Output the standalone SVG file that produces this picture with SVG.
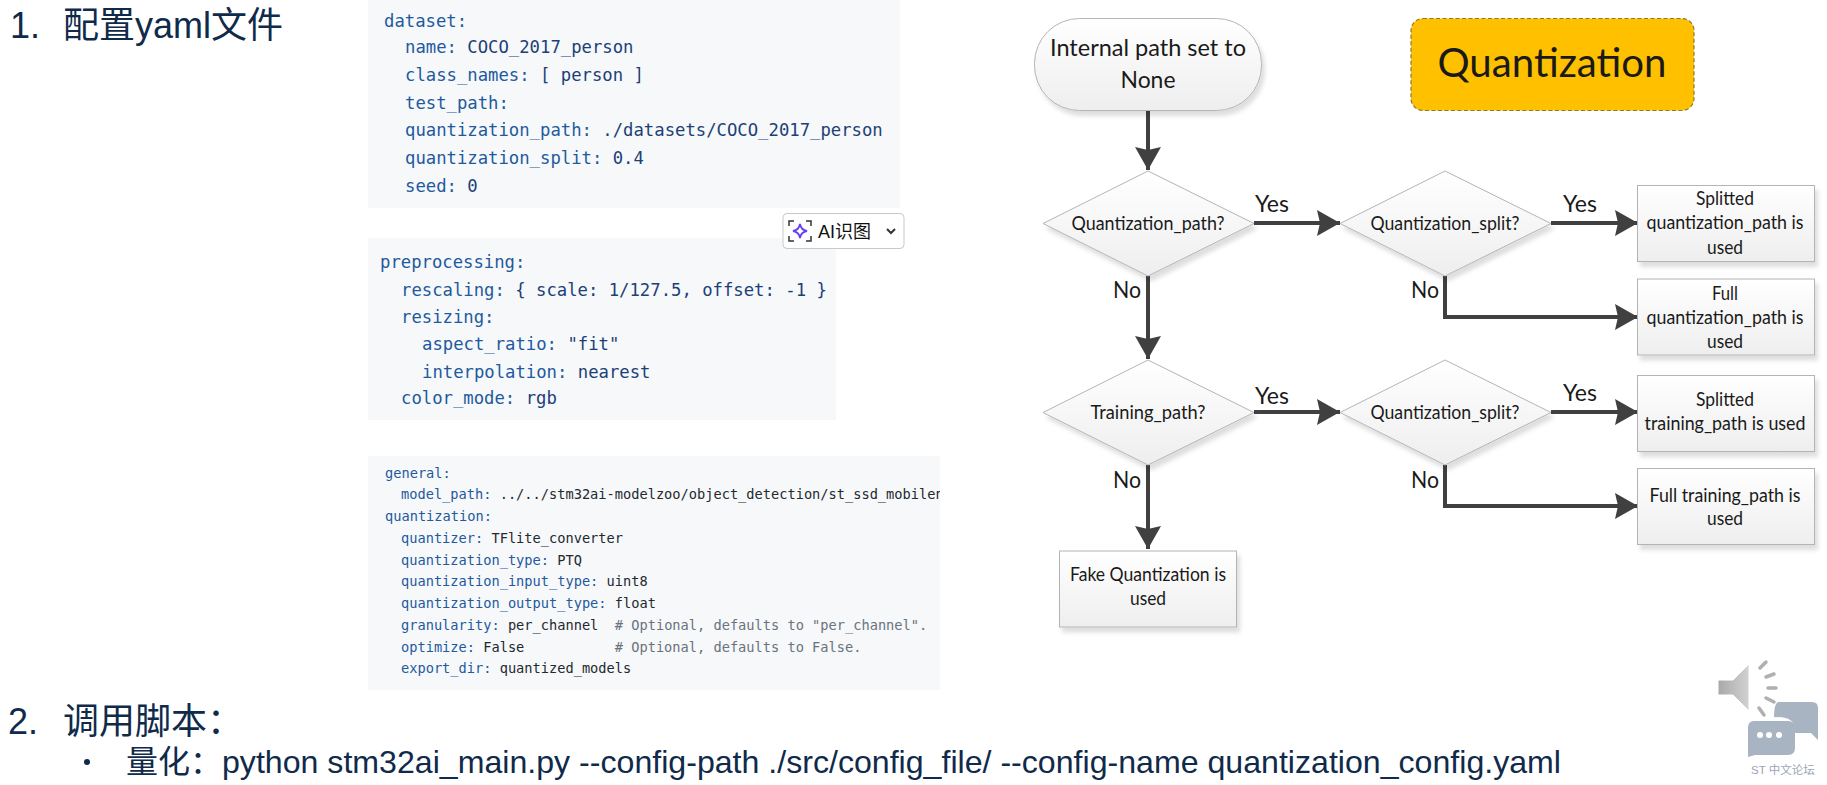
<svg xmlns="http://www.w3.org/2000/svg" width="1827" height="785" viewBox="0 0 1827 785">
<style>
text{white-space:pre}
.h{font-family:"Liberation Sans","Noto Sans CJK SC",sans-serif;fill:#0f2a4a}
.h1{font-size:36px}
.h2{font-size:32px}
.blk{fill:#f6f8fa}
.c{font-family:"DejaVu Sans Mono","Liberation Mono",monospace;fill:#1f5a9e}
.c1{font-size:17.25px}
.c3{font-size:13.66px}
.v{fill:#1d3f78}
.d{fill:#24292f}
.g{fill:#6a737d}
.f{font-family:Lato,"Noto Sans",sans-serif;fill:#1a1a1a;text-anchor:middle}
.t{font-size:24px}
.s{font-size:18.5px}
.l{font-size:24px}
.n{fill:url(#grad);stroke:#b4b4b4;stroke-width:1;filter:url(#sh)}
.e{fill:none;stroke:#404040;stroke-width:4;marker-end:url(#arr)}
</style>
<defs>
<linearGradient id="grad" x1="0" y1="0" x2="0" y2="1"><stop offset="0" stop-color="#ffffff"/><stop offset="1" stop-color="#eeeeee"/></linearGradient>
<linearGradient id="spk" x1="0" y1="0" x2="1" y2="0"><stop offset="0" stop-color="#a8a8a8"/><stop offset="1" stop-color="#d2d2d2"/></linearGradient>
<filter id="sh" x="-10%" y="-10%" width="125%" height="130%"><feDropShadow dx="3" dy="5" stdDeviation="2" flood-color="#000" flood-opacity="0.13"/></filter>
<marker id="arr" markerUnits="userSpaceOnUse" markerWidth="24" markerHeight="26" refX="23" refY="13" orient="auto"><path d="M0 0L23 13L0 26L3 13Z" fill="#404040"/></marker>
<clipPath id="clip3"><rect x="368" y="456" width="572" height="234"/></clipPath>
</defs>

<g id="heading-1"><text class="h h1" x="10" y="38">1.</text><text class="h h1" x="63" y="38">配置yaml文件</text></g>

<g id="code-dataset">
<rect class="blk" x="368" y="0" width="532" height="208"/>
<g class="c c1">
<text x="384" y="27">dataset:</text>
<text x="405" y="53">name: <tspan class="v">COCO_2017_person</tspan></text>
<text x="405" y="81">class_names: <tspan class="v">[ person ]</tspan></text>
<text x="405" y="109">test_path:</text>
<text x="405" y="136">quantization_path: <tspan class="v">./datasets/COCO_2017_person</tspan></text>
<text x="405" y="164">quantization_split: <tspan class="v">0.4</tspan></text>
<text x="405" y="192">seed: <tspan class="v">0</tspan></text>
</g></g>

<g id="code-preprocessing">
<rect class="blk" x="368" y="238" width="468" height="182"/>
<g class="c c1">
<text x="380" y="268">preprocessing:</text>
<text x="401" y="296">rescaling: <tspan class="v">{ scale: 1/127.5, offset: -1 }</tspan></text>
<text x="401" y="323">resizing:</text>
<text x="422" y="350">aspect_ratio: <tspan class="v">"fit"</tspan></text>
<text x="422" y="378">interpolation: <tspan class="v">nearest</tspan></text>
<text x="401" y="404">color_mode: <tspan class="v">rgb</tspan></text>
</g></g>

<g id="ai-button">
<rect x="783" y="213.500" width="121" height="35" rx="4" fill="#fff" stroke="#c8c8c8" stroke-width="1"/>
<path d="M789 226v-5h5M806 221h5v5M811 236v5h-5M794 241h-5v-5" fill="none" stroke="#333" stroke-width="1.500"/>
<path d="M800 224Q801 230 807 231Q801 232 800 238Q799 232 793 231Q799 230 800 224Z" fill="none" stroke="#6a3df0" stroke-width="1.800"/>
<text x="818" y="238" font-family="'Liberation Sans','Noto Sans CJK SC',sans-serif" font-size="18" fill="#111">AI识图</text>
<path d="M887 229l4 4l4-4" fill="none" stroke="#333" stroke-width="2"/>
</g>

<g id="code-general">
<rect class="blk" x="368" y="456" width="572" height="234"/>
<g class="c c3" clip-path="url(#clip3)">
<text x="385" y="478">general:</text>
<text x="401" y="499">model_path: <tspan class="d">../../stm32ai-modelzoo/object_detection/st_ssd_mobilenet</tspan></text>
<text x="385" y="521">quantization:</text>
<text x="401" y="543">quantizer: <tspan class="d">TFlite_converter</tspan></text>
<text x="401" y="565">quantization_type: <tspan class="d">PTQ</tspan></text>
<text x="401" y="586">quantization_input_type: <tspan class="d">uint8</tspan></text>
<text x="401" y="608">quantization_output_type: <tspan class="d">float</tspan></text>
<text x="401" y="630">granularity: <tspan class="d">per_channel</tspan>  <tspan class="g"># Optional, defaults to "per_channel".</tspan></text>
<text x="401" y="652">optimize: <tspan class="d">False</tspan>           <tspan class="g"># Optional, defaults to False.</tspan></text>
<text x="401" y="673">export_dir: <tspan class="d">quantized_models</tspan></text>
</g></g>

<g id="connectors">
<path class="e" d="M1148 110V170"/>
<path class="e" d="M1148 276V359"/>
<path class="e" d="M1148 465V549"/>
<path class="e" d="M1254 223H1340"/>
<path class="e" d="M1551 223H1638"/>
<path class="e" d="M1445 276V317H1638"/>
<path class="e" d="M1254 412H1340"/>
<path class="e" d="M1551 412H1638"/>
<path class="e" d="M1445 465V506H1638"/>
</g>
<g id="edge-labels" class="f l">
<text x="1272" y="212" textLength="34" lengthAdjust="spacingAndGlyphs">Yes</text>
<text x="1580" y="212" textLength="34" lengthAdjust="spacingAndGlyphs">Yes</text>
<text x="1127" y="298" textLength="28" lengthAdjust="spacingAndGlyphs">No</text>
<text x="1425" y="298" textLength="28" lengthAdjust="spacingAndGlyphs">No</text>
<text x="1272" y="404" textLength="34" lengthAdjust="spacingAndGlyphs">Yes</text>
<text x="1580" y="401" textLength="34" lengthAdjust="spacingAndGlyphs">Yes</text>
<text x="1127" y="488" textLength="28" lengthAdjust="spacingAndGlyphs">No</text>
<text x="1425" y="488" textLength="28" lengthAdjust="spacingAndGlyphs">No</text>
</g>

<g id="node-start">
<rect class="n" x="1034.500" y="18.500" width="227" height="92" rx="45"/>
<text class="f t" x="1148" y="56" textLength="196" lengthAdjust="spacingAndGlyphs">Internal path set to</text>
<text class="f t" x="1148" y="88" textLength="55" lengthAdjust="spacingAndGlyphs">None</text>
</g>
<g id="node-title">
<rect x="1411" y="18.500" width="283" height="92" rx="12" fill="#ffc000" stroke="#8a7a30" stroke-width="1.200" stroke-dasharray="4 2.500"/>
<text class="f" x="1552" y="77" font-size="40" fill="#111" textLength="229" lengthAdjust="spacingAndGlyphs">Quantization</text>
</g>
<g id="node-d1">
<polygon class="n" points="1148,171 1254,223.500 1148,276 1043,223.500"/>
<text class="f s" x="1148" y="230" textLength="153" lengthAdjust="spacingAndGlyphs">Quantization_path?</text>
</g>
<g id="node-d2">
<polygon class="n" points="1445,171 1551,223.500 1445,276 1340,223.500"/>
<text class="f s" x="1445" y="230" textLength="149" lengthAdjust="spacingAndGlyphs">Quantization_split?</text>
</g>
<g id="node-d3">
<polygon class="n" points="1148,360 1254,412.500 1148,465 1043,412.500"/>
<text class="f s" x="1148" y="419" textLength="115" lengthAdjust="spacingAndGlyphs">Training_path?</text>
</g>
<g id="node-d4">
<polygon class="n" points="1445,360 1551,412.500 1445,465 1340,412.500"/>
<text class="f s" x="1445" y="419" textLength="149" lengthAdjust="spacingAndGlyphs">Quantization_split?</text>
</g>
<g id="node-r1">
<rect class="n" x="1637.500" y="185.500" width="177" height="76"/>
<text class="f s" x="1725" y="205" textLength="58" lengthAdjust="spacingAndGlyphs">Splitted</text>
<text class="f s" x="1725" y="229" textLength="157" lengthAdjust="spacingAndGlyphs">quantization_path is</text>
<text class="f s" x="1725" y="254" textLength="36" lengthAdjust="spacingAndGlyphs">used</text>
</g>
<g id="node-r2">
<rect class="n" x="1637.500" y="279" width="177" height="76"/>
<text class="f s" x="1725" y="300" textLength="26" lengthAdjust="spacingAndGlyphs">Full</text>
<text class="f s" x="1725" y="324" textLength="157" lengthAdjust="spacingAndGlyphs">quantization_path is</text>
<text class="f s" x="1725" y="348" textLength="36" lengthAdjust="spacingAndGlyphs">used</text>
</g>
<g id="node-r3">
<rect class="n" x="1637.500" y="375.500" width="177" height="76"/>
<text class="f s" x="1725" y="406" textLength="58" lengthAdjust="spacingAndGlyphs">Splitted</text>
<text class="f s" x="1725" y="430" textLength="161" lengthAdjust="spacingAndGlyphs">training_path is used</text>
</g>
<g id="node-r4">
<rect class="n" x="1637.500" y="468.500" width="177" height="76"/>
<text class="f s" x="1725" y="502" textLength="151" lengthAdjust="spacingAndGlyphs">Full training_path is</text>
<text class="f s" x="1725" y="525" textLength="36" lengthAdjust="spacingAndGlyphs">used</text>
</g>
<g id="node-r5">
<rect class="n" x="1059.500" y="551" width="177" height="76"/>
<text class="f s" x="1148" y="581" textLength="156" lengthAdjust="spacingAndGlyphs">Fake Quantization is</text>
<text class="f s" x="1148" y="605" textLength="36" lengthAdjust="spacingAndGlyphs">used</text>
</g>

<g id="heading-2">
<text class="h h1" x="8" y="734">2.</text><text class="h h1" x="63" y="734">调用脚本：</text>
<circle cx="87" cy="762" r="3" fill="#0f2a4a"/>
<text class="h h2" x="126" y="773">量化：</text>
<text class="h h2" x="222" y="773" textLength="1339" lengthAdjust="spacingAndGlyphs">python stm32ai_main.py --config-path ./src/config_file/ --config-name quantization_config.yaml</text>
</g>

<g id="speaker">
<path d="M1718 680H1733L1749 664V711L1733 695H1718Z" fill="url(#spk)" stroke="#fff" stroke-width="1"/>
<g stroke="#b0b0b0" stroke-width="3.500" stroke-linecap="round" fill="none">
<path d="M1760 668L1766 662"/><path d="M1766 677L1774 674"/><path d="M1768 688H1776"/><path d="M1766 698L1774 702"/><path d="M1759 708L1764 715"/>
</g>
</g>
<g id="forum-logo">
<path d="M1778 702H1812Q1818 702 1818 708V740L1811 733H1795Q1795 722 1790 720Q1786 717 1774 717Q1774 704 1778 702Z" fill="#a9b4c2"/>
<path d="M1754 721H1788Q1795 721 1795 728V748Q1795 755 1788 755H1755L1748 757V728Q1748 721 1754 721Z" fill="#a9b4c2"/>
<circle cx="1760" cy="735" r="3" fill="#fff"/><circle cx="1769" cy="735" r="3" fill="#fff"/><circle cx="1779" cy="735" r="3" fill="#fff"/>
<text x="1751" y="774" font-family="'Liberation Sans','Noto Sans CJK SC',sans-serif" font-size="11.500" fill="#9aa5b3">ST 中文论坛</text>
</g>
</svg>
